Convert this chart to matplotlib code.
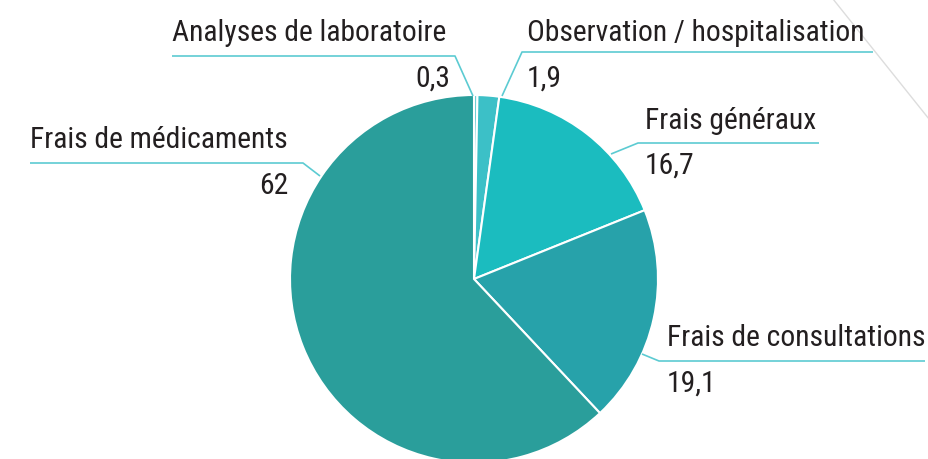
import matplotlib
matplotlib.use("Agg")
import matplotlib.pyplot as plt
from matplotlib import font_manager

categories = ["Analyses de laboratoire", "Observation / hospitalisation",
              "Frais généraux", "Frais de consultations", "Frais de médicaments"]
values = [0.3, 1.9, 16.7, 19.1, 62]
value_labels = ["0,3", "1,9", "16,7", "19,1", "62"]
colors = ["#63cbd2", "#3cc0c7", "#1bbcbf", "#27a2aa", "#2a9e9b"]

names = {f.name for f in font_manager.fontManager.ttflist}
fam = "Liberation Sans"
fs = 19
for cand, size in [("Roboto Condensed", 21.3), ("Liberation Sans Narrow", 21.3), ("Open Sans Condensed", 21.3)]:
    if cand in names:
        fam, fs = cand, size
        break
plt.rcParams['font.family'] = [fam, "DejaVu Sans"]

W, H = 929, 460
fig = plt.figure(figsize=(W / 100, H / 100), dpi=100)
ax = fig.add_axes([0, 0, 1, 1])

cx, cy, r = 474, H - 280, 184
ax.pie(values, colors=colors, startangle=90, counterclock=False,
       center=(cx, cy), radius=r, frame=True,
       wedgeprops=dict(edgecolor="white", linewidth=1.5))
ax.set_xlim(0, W)
ax.set_ylim(0, H)
ax.set_aspect('equal')
ax.axis('off')

line_c = "#5ccbd2"
tc = "#231f20"

def Y(y):
    return H - y

specs = [
    ([(172, 57), (455, 57), (473, 97)], (172, 33), (450, 79), 'left', 'right'),
    ([(873, 53), (522, 53), (502, 97)], (527, 33), (527, 79), 'left', 'left'),
    ([(819, 144), (638, 144), (611, 155)], (645, 121), (645, 166), 'left', 'left'),
    ([(925, 362), (659, 362), (642, 355)], (667, 338), (667, 384), 'left', 'left'),
    ([(30, 164), (303, 164), (320, 177)], (30, 140), (288, 186), 'left', 'right'),
]
for (pts, npos, vpos, nha, vha), name, val in zip(specs, categories, value_labels):
    ax.plot([p[0] for p in pts], [Y(p[1]) for p in pts], color=line_c, lw=1.2,
            solid_capstyle='butt')
    ax.text(npos[0], Y(npos[1]), name, ha=nha, va='center', fontsize=fs, color=tc)
    ax.text(vpos[0], Y(vpos[1]), val, ha=vha, va='center', fontsize=fs, color=tc)

ax.plot([833, 929], [Y(0), Y(120)], color="#dddddd", lw=1)

fig.savefig("out.png", dpi=100)
